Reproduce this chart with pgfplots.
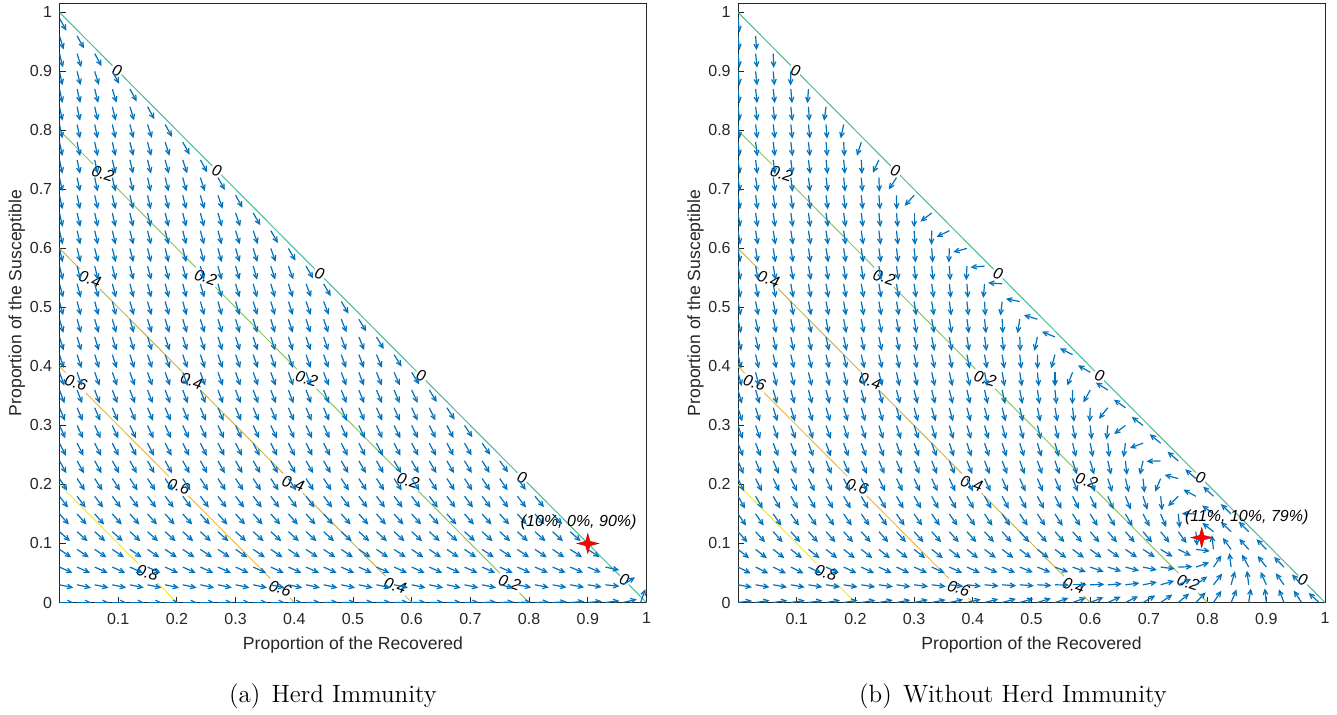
\documentclass[border=0pt]{standalone}
\usepackage{pgfplots}
\pgfplotsset{compat=1.18}
\usepackage{pgfplotstable}
\usepackage{fontspec}
\usetikzlibrary{arrows.meta}
\newfontfamily\axfont{Liberation Sans}

\definecolor{qblue}{rgb}{0,0.447,0.741}
\definecolor{axgray}{RGB}{38,38,38}
\definecolor{lev0}{RGB}{70,185,150}
\definecolor{lev2}{RGB}{140,195,100}
\definecolor{lev4}{RGB}{200,180,80}
\definecolor{lev6}{RGB}{245,185,60}
\definecolor{lev8}{RGB}{245,235,30}

% four-pointed marker for the equilibrium points
\pgfdeclareplotmark{sparkle}{%
  \pgfpathmoveto{\pgfqpoint{0pt}{5pt}}%
  \pgfpathlineto{\pgfqpoint{1.1pt}{1.1pt}}%
  \pgfpathlineto{\pgfqpoint{5.5pt}{0pt}}%
  \pgfpathlineto{\pgfqpoint{1.1pt}{-1.1pt}}%
  \pgfpathlineto{\pgfqpoint{0pt}{-5pt}}%
  \pgfpathlineto{\pgfqpoint{-1.1pt}{-1.1pt}}%
  \pgfpathlineto{\pgfqpoint{-5.5pt}{0pt}}%
  \pgfpathlineto{\pgfqpoint{-1.1pt}{1.1pt}}%
  \pgfpathclose
  \pgfusepathqfillstroke}

% direction field: R (recovered), S (susceptible), a = direction of flow in degrees
\pgfplotstableread[row sep=\\]{
R S a\\
0 0 0\\ 0.03 0 0\\ 0.06 0 0\\ 0.09 0 0\\ 0.12 0 0\\ 0.15 0 0\\ 0.18 0 0\\ 0.21 0 0\\ 0.24 0 0\\ 0.27 0 0\\ 0.3 0 0\\ 0.33 0 0\\ 0.36 0 0\\ 0.39 0 0\\ 0.42 0 1\\ 0.45 0 1\\ 0.48 0 1\\ 0.51 0 1\\ 0.54 0 1\\ 0.57 0 1\\ 0.6 0 1\\ 0.63 0 1\\ 0.66 0 1\\ 0.69 0 1\\ 0.72 0 2\\ 0.75 0 2\\ 0.78 0 2\\ 0.81 0 2\\ 0.84 0 3\\ 0.87 0 4\\ 0.9 0 5\\ 0.93 0 7\\ 0.96 0 13\\ 0.99 0 71\\
0 0.03 -12\\ 0.03 0.03 -12\\ 0.06 0.03 -12\\ 0.09 0.03 -12\\ 0.12 0.03 -12\\ 0.15 0.03 -12\\ 0.18 0.03 -12\\ 0.21 0.03 -12\\ 0.24 0.03 -12\\ 0.27 0.03 -12\\ 0.3 0.03 -12\\ 0.33 0.03 -12\\ 0.36 0.03 -12\\ 0.39 0.03 -12\\ 0.42 0.03 -12\\ 0.45 0.03 -12\\ 0.48 0.03 -12\\ 0.51 0.03 -12\\ 0.54 0.03 -12\\ 0.57 0.03 -12\\ 0.6 0.03 -12\\ 0.63 0.03 -12\\ 0.66 0.03 -12\\ 0.69 0.03 -12\\ 0.72 0.03 -12\\ 0.75 0.03 -12\\ 0.78 0.03 -11\\ 0.81 0.03 -11\\ 0.84 0.03 -11\\ 0.87 0.03 -10\\ 0.9 0.03 -9\\ 0.93 0.03 -6\\ 0.96 0.03 32\\
0 0.06 -24\\ 0.03 0.06 -24\\ 0.06 0.06 -24\\ 0.09 0.06 -24\\ 0.12 0.06 -24\\ 0.15 0.06 -24\\ 0.18 0.06 -24\\ 0.21 0.06 -24\\ 0.24 0.06 -24\\ 0.27 0.06 -24\\ 0.3 0.06 -24\\ 0.33 0.06 -24\\ 0.36 0.06 -24\\ 0.39 0.06 -24\\ 0.42 0.06 -24\\ 0.45 0.06 -24\\ 0.48 0.06 -24\\ 0.51 0.06 -24\\ 0.54 0.06 -24\\ 0.57 0.06 -24\\ 0.6 0.06 -24\\ 0.63 0.06 -24\\ 0.66 0.06 -24\\ 0.69 0.06 -24\\ 0.72 0.06 -24\\ 0.75 0.06 -24\\ 0.78 0.06 -24\\ 0.81 0.06 -23\\ 0.84 0.06 -23\\ 0.87 0.06 -23\\ 0.9 0.06 -22\\ 0.93 0.06 -12\\
0 0.09 -34\\ 0.03 0.09 -34\\ 0.06 0.09 -34\\ 0.09 0.09 -34\\ 0.12 0.09 -34\\ 0.15 0.09 -34\\ 0.18 0.09 -34\\ 0.21 0.09 -34\\ 0.24 0.09 -34\\ 0.27 0.09 -34\\ 0.3 0.09 -34\\ 0.33 0.09 -34\\ 0.36 0.09 -34\\ 0.39 0.09 -34\\ 0.42 0.09 -34\\ 0.45 0.09 -34\\ 0.48 0.09 -34\\ 0.51 0.09 -34\\ 0.54 0.09 -34\\ 0.57 0.09 -34\\ 0.6 0.09 -34\\ 0.63 0.09 -34\\ 0.66 0.09 -34\\ 0.69 0.09 -34\\ 0.72 0.09 -34\\ 0.75 0.09 -34\\ 0.78 0.09 -34\\ 0.81 0.09 -34\\ 0.84 0.09 -34\\ 0.87 0.09 -33\\ 0.9 0.09 -33\\
0 0.12 -42\\ 0.03 0.12 -42\\ 0.06 0.12 -42\\ 0.09 0.12 -42\\ 0.12 0.12 -42\\ 0.15 0.12 -42\\ 0.18 0.12 -42\\ 0.21 0.12 -42\\ 0.24 0.12 -42\\ 0.27 0.12 -42\\ 0.3 0.12 -42\\ 0.33 0.12 -42\\ 0.36 0.12 -42\\ 0.39 0.12 -42\\ 0.42 0.12 -42\\ 0.45 0.12 -42\\ 0.48 0.12 -42\\ 0.51 0.12 -42\\ 0.54 0.12 -42\\ 0.57 0.12 -42\\ 0.6 0.12 -42\\ 0.63 0.12 -42\\ 0.66 0.12 -42\\ 0.69 0.12 -42\\ 0.72 0.12 -42\\ 0.75 0.12 -42\\ 0.78 0.12 -42\\ 0.81 0.12 -42\\ 0.84 0.12 -42\\ 0.87 0.12 -42\\
0 0.15 -48\\ 0.03 0.15 -48\\ 0.06 0.15 -48\\ 0.09 0.15 -48\\ 0.12 0.15 -48\\ 0.15 0.15 -48\\ 0.18 0.15 -48\\ 0.21 0.15 -48\\ 0.24 0.15 -48\\ 0.27 0.15 -48\\ 0.3 0.15 -48\\ 0.33 0.15 -48\\ 0.36 0.15 -48\\ 0.39 0.15 -48\\ 0.42 0.15 -48\\ 0.45 0.15 -48\\ 0.48 0.15 -48\\ 0.51 0.15 -48\\ 0.54 0.15 -48\\ 0.57 0.15 -48\\ 0.6 0.15 -48\\ 0.63 0.15 -48\\ 0.66 0.15 -48\\ 0.69 0.15 -48\\ 0.72 0.15 -48\\ 0.75 0.15 -48\\ 0.78 0.15 -48\\ 0.81 0.15 -48\\ 0.84 0.15 -47\\
0 0.18 -53\\ 0.03 0.18 -53\\ 0.06 0.18 -53\\ 0.09 0.18 -53\\ 0.12 0.18 -53\\ 0.15 0.18 -53\\ 0.18 0.18 -53\\ 0.21 0.18 -53\\ 0.24 0.18 -53\\ 0.27 0.18 -53\\ 0.3 0.18 -53\\ 0.33 0.18 -53\\ 0.36 0.18 -53\\ 0.39 0.18 -53\\ 0.42 0.18 -53\\ 0.45 0.18 -53\\ 0.48 0.18 -53\\ 0.51 0.18 -53\\ 0.54 0.18 -53\\ 0.57 0.18 -53\\ 0.6 0.18 -53\\ 0.63 0.18 -53\\ 0.66 0.18 -53\\ 0.69 0.18 -53\\ 0.72 0.18 -53\\ 0.75 0.18 -53\\ 0.78 0.18 -52\\ 0.81 0.18 -50\\
0 0.21 -57\\ 0.03 0.21 -57\\ 0.06 0.21 -57\\ 0.09 0.21 -57\\ 0.12 0.21 -57\\ 0.15 0.21 -57\\ 0.18 0.21 -57\\ 0.21 0.21 -57\\ 0.24 0.21 -57\\ 0.27 0.21 -57\\ 0.3 0.21 -57\\ 0.33 0.21 -57\\ 0.36 0.21 -57\\ 0.39 0.21 -57\\ 0.42 0.21 -57\\ 0.45 0.21 -57\\ 0.48 0.21 -57\\ 0.51 0.21 -57\\ 0.54 0.21 -57\\ 0.57 0.21 -57\\ 0.6 0.21 -57\\ 0.63 0.21 -57\\ 0.66 0.21 -57\\ 0.69 0.21 -57\\ 0.72 0.21 -56\\ 0.75 0.21 -56\\ 0.78 0.21 -53\\
0 0.24 -61\\ 0.03 0.24 -61\\ 0.06 0.24 -61\\ 0.09 0.24 -61\\ 0.12 0.24 -61\\ 0.15 0.24 -61\\ 0.18 0.24 -61\\ 0.21 0.24 -61\\ 0.24 0.24 -61\\ 0.27 0.24 -61\\ 0.3 0.24 -61\\ 0.33 0.24 -60\\ 0.36 0.24 -60\\ 0.39 0.24 -60\\ 0.42 0.24 -60\\ 0.45 0.24 -60\\ 0.48 0.24 -60\\ 0.51 0.24 -60\\ 0.54 0.24 -60\\ 0.57 0.24 -60\\ 0.6 0.24 -60\\ 0.63 0.24 -60\\ 0.66 0.24 -60\\ 0.69 0.24 -59\\ 0.72 0.24 -58\\ 0.75 0.24 -54\\
0 0.27 -63\\ 0.03 0.27 -63\\ 0.06 0.27 -63\\ 0.09 0.27 -63\\ 0.12 0.27 -63\\ 0.15 0.27 -63\\ 0.18 0.27 -63\\ 0.21 0.27 -63\\ 0.24 0.27 -63\\ 0.27 0.27 -63\\ 0.3 0.27 -63\\ 0.33 0.27 -63\\ 0.36 0.27 -63\\ 0.39 0.27 -63\\ 0.42 0.27 -63\\ 0.45 0.27 -63\\ 0.48 0.27 -63\\ 0.51 0.27 -63\\ 0.54 0.27 -63\\ 0.57 0.27 -63\\ 0.6 0.27 -62\\ 0.63 0.27 -62\\ 0.66 0.27 -62\\ 0.69 0.27 -60\\ 0.72 0.27 -55\\
0 0.3 -65\\ 0.03 0.3 -65\\ 0.06 0.3 -65\\ 0.09 0.3 -65\\ 0.12 0.3 -65\\ 0.15 0.3 -65\\ 0.18 0.3 -65\\ 0.21 0.3 -65\\ 0.24 0.3 -65\\ 0.27 0.3 -65\\ 0.3 0.3 -65\\ 0.33 0.3 -65\\ 0.36 0.3 -65\\ 0.39 0.3 -65\\ 0.42 0.3 -65\\ 0.45 0.3 -65\\ 0.48 0.3 -65\\ 0.51 0.3 -65\\ 0.54 0.3 -65\\ 0.57 0.3 -64\\ 0.6 0.3 -64\\ 0.63 0.3 -63\\ 0.66 0.3 -62\\ 0.69 0.3 -56\\
0 0.33 -67\\ 0.03 0.33 -67\\ 0.06 0.33 -67\\ 0.09 0.33 -67\\ 0.12 0.33 -67\\ 0.15 0.33 -67\\ 0.18 0.33 -67\\ 0.21 0.33 -67\\ 0.24 0.33 -67\\ 0.27 0.33 -67\\ 0.3 0.33 -67\\ 0.33 0.33 -67\\ 0.36 0.33 -67\\ 0.39 0.33 -67\\ 0.42 0.33 -67\\ 0.45 0.33 -67\\ 0.48 0.33 -67\\ 0.51 0.33 -67\\ 0.54 0.33 -66\\ 0.57 0.33 -66\\ 0.6 0.33 -65\\ 0.63 0.33 -64\\ 0.66 0.33 -57\\
0 0.36 -69\\ 0.03 0.36 -69\\ 0.06 0.36 -69\\ 0.09 0.36 -69\\ 0.12 0.36 -69\\ 0.15 0.36 -69\\ 0.18 0.36 -69\\ 0.21 0.36 -69\\ 0.24 0.36 -69\\ 0.27 0.36 -69\\ 0.3 0.36 -69\\ 0.33 0.36 -69\\ 0.36 0.36 -69\\ 0.39 0.36 -69\\ 0.42 0.36 -69\\ 0.45 0.36 -68\\ 0.48 0.36 -68\\ 0.51 0.36 -68\\ 0.54 0.36 -67\\ 0.57 0.36 -67\\ 0.6 0.36 -65\\ 0.63 0.36 -58\\
0 0.39 -70\\ 0.03 0.39 -70\\ 0.06 0.39 -70\\ 0.09 0.39 -70\\ 0.12 0.39 -70\\ 0.15 0.39 -70\\ 0.18 0.39 -70\\ 0.21 0.39 -70\\ 0.24 0.39 -70\\ 0.27 0.39 -70\\ 0.3 0.39 -70\\ 0.33 0.39 -70\\ 0.36 0.39 -70\\ 0.39 0.39 -70\\ 0.42 0.39 -70\\ 0.45 0.39 -69\\ 0.48 0.39 -69\\ 0.51 0.39 -69\\ 0.54 0.39 -68\\ 0.57 0.39 -66\\ 0.6 0.39 -58\\
0 0.42 -72\\ 0.03 0.42 -72\\ 0.06 0.42 -72\\ 0.09 0.42 -72\\ 0.12 0.42 -72\\ 0.15 0.42 -71\\ 0.18 0.42 -71\\ 0.21 0.42 -71\\ 0.24 0.42 -71\\ 0.27 0.42 -71\\ 0.3 0.42 -71\\ 0.33 0.42 -71\\ 0.36 0.42 -71\\ 0.39 0.42 -71\\ 0.42 0.42 -71\\ 0.45 0.42 -70\\ 0.48 0.42 -70\\ 0.51 0.42 -69\\ 0.54 0.42 -67\\ 0.57 0.42 -58\\
0 0.45 -73\\ 0.03 0.45 -73\\ 0.06 0.45 -73\\ 0.09 0.45 -73\\ 0.12 0.45 -73\\ 0.15 0.45 -72\\ 0.18 0.45 -72\\ 0.21 0.45 -72\\ 0.24 0.45 -72\\ 0.27 0.45 -72\\ 0.3 0.45 -72\\ 0.33 0.45 -72\\ 0.36 0.45 -72\\ 0.39 0.45 -72\\ 0.42 0.45 -71\\ 0.45 0.45 -71\\ 0.48 0.45 -70\\ 0.51 0.45 -68\\ 0.54 0.45 -59\\
0 0.48 -74\\ 0.03 0.48 -74\\ 0.06 0.48 -74\\ 0.09 0.48 -74\\ 0.12 0.48 -74\\ 0.15 0.48 -73\\ 0.18 0.48 -73\\ 0.21 0.48 -73\\ 0.24 0.48 -73\\ 0.27 0.48 -73\\ 0.3 0.48 -73\\ 0.33 0.48 -73\\ 0.36 0.48 -73\\ 0.39 0.48 -72\\ 0.42 0.48 -72\\ 0.45 0.48 -71\\ 0.48 0.48 -68\\ 0.51 0.48 -59\\
0 0.51 -75\\ 0.03 0.51 -75\\ 0.06 0.51 -75\\ 0.09 0.51 -75\\ 0.12 0.51 -74\\ 0.15 0.51 -74\\ 0.18 0.51 -74\\ 0.21 0.51 -74\\ 0.24 0.51 -74\\ 0.27 0.51 -74\\ 0.3 0.51 -74\\ 0.33 0.51 -73\\ 0.36 0.51 -73\\ 0.39 0.51 -72\\ 0.42 0.51 -71\\ 0.45 0.51 -69\\ 0.48 0.51 -59\\
0 0.54 -75\\ 0.03 0.54 -75\\ 0.06 0.54 -75\\ 0.09 0.54 -75\\ 0.12 0.54 -75\\ 0.15 0.54 -75\\ 0.18 0.54 -75\\ 0.21 0.54 -75\\ 0.24 0.54 -74\\ 0.27 0.54 -74\\ 0.3 0.54 -74\\ 0.33 0.54 -74\\ 0.36 0.54 -73\\ 0.39 0.54 -72\\ 0.42 0.54 -69\\ 0.45 0.54 -60\\
0 0.57 -76\\ 0.03 0.57 -76\\ 0.06 0.57 -76\\ 0.09 0.57 -76\\ 0.12 0.57 -76\\ 0.15 0.57 -75\\ 0.18 0.57 -75\\ 0.21 0.57 -75\\ 0.24 0.57 -75\\ 0.27 0.57 -75\\ 0.3 0.57 -74\\ 0.33 0.57 -74\\ 0.36 0.57 -72\\ 0.39 0.57 -70\\ 0.42 0.57 -60\\
0 0.6 -77\\ 0.03 0.6 -76\\ 0.06 0.6 -76\\ 0.09 0.6 -76\\ 0.12 0.6 -76\\ 0.15 0.6 -76\\ 0.18 0.6 -76\\ 0.21 0.6 -76\\ 0.24 0.6 -75\\ 0.27 0.6 -75\\ 0.3 0.6 -74\\ 0.33 0.6 -73\\ 0.36 0.6 -70\\ 0.39 0.6 -60\\
0 0.63 -77\\ 0.03 0.63 -77\\ 0.06 0.63 -77\\ 0.09 0.63 -77\\ 0.12 0.63 -76\\ 0.15 0.63 -76\\ 0.18 0.63 -76\\ 0.21 0.63 -76\\ 0.24 0.63 -75\\ 0.27 0.63 -75\\ 0.3 0.63 -73\\ 0.33 0.63 -71\\ 0.36 0.63 -60\\
0 0.66 -77\\ 0.03 0.66 -77\\ 0.06 0.66 -77\\ 0.09 0.66 -77\\ 0.12 0.66 -77\\ 0.15 0.66 -77\\ 0.18 0.66 -76\\ 0.21 0.66 -76\\ 0.24 0.66 -75\\ 0.27 0.66 -74\\ 0.3 0.66 -71\\ 0.33 0.66 -60\\
0 0.69 -78\\ 0.03 0.69 -78\\ 0.06 0.69 -77\\ 0.09 0.69 -77\\ 0.12 0.69 -77\\ 0.15 0.69 -77\\ 0.18 0.69 -76\\ 0.21 0.69 -76\\ 0.24 0.69 -74\\ 0.27 0.69 -71\\ 0.3 0.69 -61\\
0 0.72 -78\\ 0.03 0.72 -78\\ 0.06 0.72 -78\\ 0.09 0.72 -77\\ 0.12 0.72 -77\\ 0.15 0.72 -77\\ 0.18 0.72 -76\\ 0.21 0.72 -75\\ 0.24 0.72 -72\\ 0.27 0.72 -61\\
0 0.75 -78\\ 0.03 0.75 -78\\ 0.06 0.75 -78\\ 0.09 0.75 -77\\ 0.12 0.75 -77\\ 0.15 0.75 -76\\ 0.18 0.75 -75\\ 0.21 0.75 -72\\ 0.24 0.75 -61\\
0 0.78 -78\\ 0.03 0.78 -78\\ 0.06 0.78 -78\\ 0.09 0.78 -77\\ 0.12 0.78 -76\\ 0.15 0.78 -75\\ 0.18 0.78 -72\\ 0.21 0.78 -61\\
0 0.81 -78\\ 0.03 0.81 -78\\ 0.06 0.81 -78\\ 0.09 0.81 -77\\ 0.12 0.81 -76\\ 0.15 0.81 -72\\ 0.18 0.81 -61\\
0 0.84 -78\\ 0.03 0.84 -78\\ 0.06 0.84 -77\\ 0.09 0.84 -76\\ 0.12 0.84 -73\\ 0.15 0.84 -61\\
0 0.87 -78\\ 0.03 0.87 -77\\ 0.06 0.87 -76\\ 0.09 0.87 -73\\ 0.12 0.87 -61\\
0 0.9 -78\\ 0.03 0.9 -76\\ 0.06 0.9 -73\\ 0.09 0.9 -61\\
0 0.93 -76\\ 0.03 0.93 -73\\ 0.06 0.93 -61\\
0 0.96 -73\\ 0.03 0.96 -61\\
0 0.99 -61\\
}\herd

\pgfplotstableread[row sep=\\]{
R S a\\
0 0 7\\ 0.03 0 8\\ 0.06 0 8\\ 0.09 0 8\\ 0.12 0 8\\ 0.15 0 9\\ 0.18 0 9\\ 0.21 0 9\\ 0.24 0 10\\ 0.27 0 10\\ 0.3 0 11\\ 0.33 0 11\\ 0.36 0 12\\ 0.39 0 13\\ 0.42 0 14\\ 0.45 0 15\\ 0.48 0 16\\ 0.51 0 17\\ 0.54 0 18\\ 0.57 0 20\\ 0.6 0 21\\ 0.63 0 24\\ 0.66 0 26\\ 0.69 0 30\\ 0.72 0 34\\ 0.75 0 39\\ 0.78 0 46\\ 0.81 0 56\\ 0.84 0 67\\ 0.87 0 81\\ 0.9 0 96\\ 0.93 0 111\\ 0.96 0 123\\ 0.99 0 138\\
0 0.03 -10\\ 0.03 0.03 -10\\ 0.06 0.03 -10\\ 0.09 0.03 -10\\ 0.12 0.03 -9\\ 0.15 0.03 -9\\ 0.18 0.03 -9\\ 0.21 0.03 -9\\ 0.24 0.03 -8\\ 0.27 0.03 -8\\ 0.3 0.03 -7\\ 0.33 0.03 -7\\ 0.36 0.03 -6\\ 0.39 0.03 -6\\ 0.42 0.03 -5\\ 0.45 0.03 -4\\ 0.48 0.03 -4\\ 0.51 0.03 -3\\ 0.54 0.03 -1\\ 0.57 0.03 0\\ 0.6 0.03 2\\ 0.63 0.03 4\\ 0.66 0.03 7\\ 0.69 0.03 11\\ 0.72 0.03 16\\ 0.75 0.03 24\\ 0.78 0.03 36\\ 0.81 0.03 52\\ 0.84 0.03 74\\ 0.87 0.03 97\\ 0.9 0.03 114\\ 0.93 0.03 125\\ 0.96 0.03 133\\
0 0.06 -26\\ 0.03 0.06 -26\\ 0.06 0.06 -26\\ 0.09 0.06 -26\\ 0.12 0.06 -25\\ 0.15 0.06 -25\\ 0.18 0.06 -25\\ 0.21 0.06 -25\\ 0.24 0.06 -25\\ 0.27 0.06 -25\\ 0.3 0.06 -24\\ 0.33 0.06 -24\\ 0.36 0.06 -24\\ 0.39 0.06 -24\\ 0.42 0.06 -23\\ 0.45 0.06 -23\\ 0.48 0.06 -22\\ 0.51 0.06 -22\\ 0.54 0.06 -21\\ 0.57 0.06 -20\\ 0.6 0.06 -19\\ 0.63 0.06 -17\\ 0.66 0.06 -15\\ 0.69 0.06 -12\\ 0.72 0.06 -7\\ 0.75 0.06 2\\ 0.78 0.06 19\\ 0.81 0.06 56\\ 0.84 0.06 97\\ 0.87 0.06 118\\ 0.9 0.06 128\\ 0.93 0.06 134\\
0 0.09 -38\\ 0.03 0.09 -38\\ 0.06 0.09 -38\\ 0.09 0.09 -38\\ 0.12 0.09 -38\\ 0.15 0.09 -38\\ 0.18 0.09 -38\\ 0.21 0.09 -38\\ 0.24 0.09 -38\\ 0.27 0.09 -38\\ 0.3 0.09 -38\\ 0.33 0.09 -38\\ 0.36 0.09 -38\\ 0.39 0.09 -38\\ 0.42 0.09 -37\\ 0.45 0.09 -37\\ 0.48 0.09 -37\\ 0.51 0.09 -37\\ 0.54 0.09 -37\\ 0.57 0.09 -36\\ 0.6 0.09 -36\\ 0.63 0.09 -35\\ 0.66 0.09 -34\\ 0.69 0.09 -33\\ 0.72 0.09 -31\\ 0.75 0.09 -26\\ 0.78 0.09 -7\\ 0.81 0.09 97\\ 0.84 0.09 126\\ 0.87 0.09 132\\ 0.9 0.09 134\\
0 0.12 -48\\ 0.03 0.12 -48\\ 0.06 0.12 -48\\ 0.09 0.12 -48\\ 0.12 0.12 -48\\ 0.15 0.12 -48\\ 0.18 0.12 -48\\ 0.21 0.12 -48\\ 0.24 0.12 -48\\ 0.27 0.12 -48\\ 0.3 0.12 -48\\ 0.33 0.12 -48\\ 0.36 0.12 -48\\ 0.39 0.12 -48\\ 0.42 0.12 -48\\ 0.45 0.12 -48\\ 0.48 0.12 -48\\ 0.51 0.12 -48\\ 0.54 0.12 -48\\ 0.57 0.12 -48\\ 0.6 0.12 -49\\ 0.63 0.12 -49\\ 0.66 0.12 -49\\ 0.69 0.12 -50\\ 0.72 0.12 -51\\ 0.75 0.12 -54\\ 0.78 0.12 -85\\ 0.81 0.12 142\\ 0.84 0.12 137\\ 0.87 0.12 135\\
0 0.15 -55\\ 0.03 0.15 -55\\ 0.06 0.15 -55\\ 0.09 0.15 -55\\ 0.12 0.15 -55\\ 0.15 0.15 -55\\ 0.18 0.15 -55\\ 0.21 0.15 -55\\ 0.24 0.15 -55\\ 0.27 0.15 -55\\ 0.3 0.15 -55\\ 0.33 0.15 -55\\ 0.36 0.15 -55\\ 0.39 0.15 -55\\ 0.42 0.15 -56\\ 0.45 0.15 -56\\ 0.48 0.15 -56\\ 0.51 0.15 -56\\ 0.54 0.15 -57\\ 0.57 0.15 -57\\ 0.6 0.15 -58\\ 0.63 0.15 -59\\ 0.66 0.15 -60\\ 0.69 0.15 -62\\ 0.72 0.15 -67\\ 0.75 0.15 -84\\ 0.78 0.15 178\\ 0.81 0.15 143\\ 0.84 0.15 136\\
0 0.18 -60\\ 0.03 0.18 -60\\ 0.06 0.18 -60\\ 0.09 0.18 -60\\ 0.12 0.18 -60\\ 0.15 0.18 -60\\ 0.18 0.18 -60\\ 0.21 0.18 -60\\ 0.24 0.18 -60\\ 0.27 0.18 -60\\ 0.3 0.18 -60\\ 0.33 0.18 -61\\ 0.36 0.18 -61\\ 0.39 0.18 -61\\ 0.42 0.18 -61\\ 0.45 0.18 -62\\ 0.48 0.18 -62\\ 0.51 0.18 -62\\ 0.54 0.18 -63\\ 0.57 0.18 -63\\ 0.6 0.18 -64\\ 0.63 0.18 -66\\ 0.66 0.18 -68\\ 0.69 0.18 -72\\ 0.72 0.18 -84\\ 0.75 0.18 -136\\ 0.78 0.18 152\\ 0.81 0.18 137\\
0 0.21 -64\\ 0.03 0.21 -64\\ 0.06 0.21 -64\\ 0.09 0.21 -64\\ 0.12 0.21 -64\\ 0.15 0.21 -64\\ 0.18 0.21 -64\\ 0.21 0.21 -64\\ 0.24 0.21 -64\\ 0.27 0.21 -64\\ 0.3 0.21 -65\\ 0.33 0.21 -65\\ 0.36 0.21 -65\\ 0.39 0.21 -65\\ 0.42 0.21 -65\\ 0.45 0.21 -66\\ 0.48 0.21 -66\\ 0.51 0.21 -67\\ 0.54 0.21 -67\\ 0.57 0.21 -68\\ 0.6 0.21 -70\\ 0.63 0.21 -72\\ 0.66 0.21 -76\\ 0.69 0.21 -84\\ 0.72 0.21 -113\\ 0.75 0.21 165\\ 0.78 0.21 139\\
0 0.24 -67\\ 0.03 0.24 -67\\ 0.06 0.24 -67\\ 0.09 0.24 -67\\ 0.12 0.24 -67\\ 0.15 0.24 -67\\ 0.18 0.24 -67\\ 0.21 0.24 -67\\ 0.24 0.24 -67\\ 0.27 0.24 -67\\ 0.3 0.24 -68\\ 0.33 0.24 -68\\ 0.36 0.24 -68\\ 0.39 0.24 -68\\ 0.42 0.24 -69\\ 0.45 0.24 -69\\ 0.48 0.24 -70\\ 0.51 0.24 -70\\ 0.54 0.24 -71\\ 0.57 0.24 -72\\ 0.6 0.24 -74\\ 0.63 0.24 -77\\ 0.66 0.24 -84\\ 0.69 0.24 -103\\ 0.72 0.24 -178\\ 0.75 0.24 140\\
0 0.27 -69\\ 0.03 0.27 -69\\ 0.06 0.27 -69\\ 0.09 0.27 -69\\ 0.12 0.27 -70\\ 0.15 0.27 -70\\ 0.18 0.27 -70\\ 0.21 0.27 -70\\ 0.24 0.27 -70\\ 0.27 0.27 -70\\ 0.3 0.27 -70\\ 0.33 0.27 -70\\ 0.36 0.27 -71\\ 0.39 0.27 -71\\ 0.42 0.27 -71\\ 0.45 0.27 -72\\ 0.48 0.27 -72\\ 0.51 0.27 -73\\ 0.54 0.27 -74\\ 0.57 0.27 -76\\ 0.6 0.27 -79\\ 0.63 0.27 -84\\ 0.66 0.27 -98\\ 0.69 0.27 -160\\ 0.72 0.27 141\\
0 0.3 -71\\ 0.03 0.3 -71\\ 0.06 0.3 -71\\ 0.09 0.3 -71\\ 0.12 0.3 -71\\ 0.15 0.3 -71\\ 0.18 0.3 -72\\ 0.21 0.3 -72\\ 0.24 0.3 -72\\ 0.27 0.3 -72\\ 0.3 0.3 -72\\ 0.33 0.3 -73\\ 0.36 0.3 -73\\ 0.39 0.3 -73\\ 0.42 0.3 -74\\ 0.45 0.3 -74\\ 0.48 0.3 -75\\ 0.51 0.3 -76\\ 0.54 0.3 -77\\ 0.57 0.3 -79\\ 0.6 0.3 -84\\ 0.63 0.3 -95\\ 0.66 0.3 -143\\ 0.69 0.3 143\\
0 0.33 -73\\ 0.03 0.33 -73\\ 0.06 0.33 -73\\ 0.09 0.33 -73\\ 0.12 0.33 -73\\ 0.15 0.33 -73\\ 0.18 0.33 -73\\ 0.21 0.33 -74\\ 0.24 0.33 -74\\ 0.27 0.33 -74\\ 0.3 0.33 -74\\ 0.33 0.33 -74\\ 0.36 0.33 -75\\ 0.39 0.33 -75\\ 0.42 0.33 -75\\ 0.45 0.33 -76\\ 0.48 0.33 -77\\ 0.51 0.33 -78\\ 0.54 0.33 -80\\ 0.57 0.33 -84\\ 0.6 0.33 -92\\ 0.63 0.33 -129\\ 0.66 0.33 145\\
0 0.36 -74\\ 0.03 0.36 -74\\ 0.06 0.36 -74\\ 0.09 0.36 -75\\ 0.12 0.36 -75\\ 0.15 0.36 -75\\ 0.18 0.36 -75\\ 0.21 0.36 -75\\ 0.24 0.36 -75\\ 0.27 0.36 -75\\ 0.3 0.36 -76\\ 0.33 0.36 -76\\ 0.36 0.36 -76\\ 0.39 0.36 -77\\ 0.42 0.36 -77\\ 0.45 0.36 -78\\ 0.48 0.36 -79\\ 0.51 0.36 -81\\ 0.54 0.36 -84\\ 0.57 0.36 -91\\ 0.6 0.36 -119\\ 0.63 0.36 148\\
0 0.39 -75\\ 0.03 0.39 -76\\ 0.06 0.39 -76\\ 0.09 0.39 -76\\ 0.12 0.39 -76\\ 0.15 0.39 -76\\ 0.18 0.39 -76\\ 0.21 0.39 -76\\ 0.24 0.39 -76\\ 0.27 0.39 -77\\ 0.3 0.39 -77\\ 0.33 0.39 -77\\ 0.36 0.39 -77\\ 0.39 0.39 -78\\ 0.42 0.39 -79\\ 0.45 0.39 -80\\ 0.48 0.39 -81\\ 0.51 0.39 -84\\ 0.54 0.39 -90\\ 0.57 0.39 -112\\ 0.6 0.39 150\\
0 0.42 -77\\ 0.03 0.42 -77\\ 0.06 0.42 -77\\ 0.09 0.42 -77\\ 0.12 0.42 -77\\ 0.15 0.42 -77\\ 0.18 0.42 -77\\ 0.21 0.42 -77\\ 0.24 0.42 -77\\ 0.27 0.42 -78\\ 0.3 0.42 -78\\ 0.33 0.42 -78\\ 0.36 0.42 -79\\ 0.39 0.42 -79\\ 0.42 0.42 -80\\ 0.45 0.42 -81\\ 0.48 0.42 -84\\ 0.51 0.42 -89\\ 0.54 0.42 -106\\ 0.57 0.42 154\\
0 0.45 -77\\ 0.03 0.45 -77\\ 0.06 0.45 -78\\ 0.09 0.45 -78\\ 0.12 0.45 -78\\ 0.15 0.45 -78\\ 0.18 0.45 -78\\ 0.21 0.45 -78\\ 0.24 0.45 -78\\ 0.27 0.45 -79\\ 0.3 0.45 -79\\ 0.33 0.45 -79\\ 0.36 0.45 -80\\ 0.39 0.45 -81\\ 0.42 0.45 -82\\ 0.45 0.45 -84\\ 0.48 0.45 -88\\ 0.51 0.45 -102\\ 0.54 0.45 158\\
0 0.48 -78\\ 0.03 0.48 -78\\ 0.06 0.48 -78\\ 0.09 0.48 -78\\ 0.12 0.48 -78\\ 0.15 0.48 -79\\ 0.18 0.48 -79\\ 0.21 0.48 -79\\ 0.24 0.48 -79\\ 0.27 0.48 -79\\ 0.3 0.48 -80\\ 0.33 0.48 -80\\ 0.36 0.48 -81\\ 0.39 0.48 -82\\ 0.42 0.48 -84\\ 0.45 0.48 -87\\ 0.48 0.48 -99\\ 0.51 0.48 163\\
0 0.51 -79\\ 0.03 0.51 -79\\ 0.06 0.51 -79\\ 0.09 0.51 -79\\ 0.12 0.51 -79\\ 0.15 0.51 -79\\ 0.18 0.51 -80\\ 0.21 0.51 -80\\ 0.24 0.51 -80\\ 0.27 0.51 -80\\ 0.3 0.51 -81\\ 0.33 0.51 -81\\ 0.36 0.51 -82\\ 0.39 0.51 -84\\ 0.42 0.51 -87\\ 0.45 0.51 -97\\ 0.48 0.51 169\\
0 0.54 -80\\ 0.03 0.54 -80\\ 0.06 0.54 -80\\ 0.09 0.54 -80\\ 0.12 0.54 -80\\ 0.15 0.54 -80\\ 0.18 0.54 -80\\ 0.21 0.54 -80\\ 0.24 0.54 -81\\ 0.27 0.54 -81\\ 0.3 0.54 -82\\ 0.33 0.54 -82\\ 0.36 0.54 -84\\ 0.39 0.54 -86\\ 0.42 0.54 -95\\ 0.45 0.54 176\\
0 0.57 -80\\ 0.03 0.57 -80\\ 0.06 0.57 -80\\ 0.09 0.57 -80\\ 0.12 0.57 -80\\ 0.15 0.57 -81\\ 0.18 0.57 -81\\ 0.21 0.57 -81\\ 0.24 0.57 -81\\ 0.27 0.57 -82\\ 0.3 0.57 -83\\ 0.33 0.57 -84\\ 0.36 0.57 -86\\ 0.39 0.57 -93\\ 0.42 0.57 -175\\
0 0.6 -81\\ 0.03 0.6 -81\\ 0.06 0.6 -81\\ 0.09 0.6 -81\\ 0.12 0.6 -81\\ 0.15 0.6 -81\\ 0.18 0.6 -81\\ 0.21 0.6 -82\\ 0.24 0.6 -82\\ 0.27 0.6 -83\\ 0.3 0.6 -84\\ 0.33 0.6 -86\\ 0.36 0.6 -92\\ 0.39 0.6 -165\\
0 0.63 -81\\ 0.03 0.63 -81\\ 0.06 0.63 -81\\ 0.09 0.63 -81\\ 0.12 0.63 -81\\ 0.15 0.63 -82\\ 0.18 0.63 -82\\ 0.21 0.63 -82\\ 0.24 0.63 -83\\ 0.27 0.63 -84\\ 0.3 0.63 -86\\ 0.33 0.63 -91\\ 0.36 0.63 -154\\
0 0.66 -81\\ 0.03 0.66 -82\\ 0.06 0.66 -82\\ 0.09 0.66 -82\\ 0.12 0.66 -82\\ 0.15 0.66 -82\\ 0.18 0.66 -82\\ 0.21 0.66 -83\\ 0.24 0.66 -84\\ 0.27 0.66 -85\\ 0.3 0.66 -90\\ 0.33 0.66 -143\\
0 0.69 -82\\ 0.03 0.69 -82\\ 0.06 0.69 -82\\ 0.09 0.69 -82\\ 0.12 0.69 -82\\ 0.15 0.69 -83\\ 0.18 0.69 -83\\ 0.21 0.69 -84\\ 0.24 0.69 -85\\ 0.27 0.69 -89\\ 0.3 0.69 -132\\
0 0.72 -82\\ 0.03 0.72 -82\\ 0.06 0.72 -82\\ 0.09 0.72 -83\\ 0.12 0.72 -83\\ 0.15 0.72 -83\\ 0.18 0.72 -84\\ 0.21 0.72 -85\\ 0.24 0.72 -88\\ 0.27 0.72 -123\\
0 0.75 -82\\ 0.03 0.75 -83\\ 0.06 0.75 -83\\ 0.09 0.75 -83\\ 0.12 0.75 -83\\ 0.15 0.75 -84\\ 0.18 0.75 -85\\ 0.21 0.75 -87\\ 0.24 0.75 -115\\
0 0.78 -83\\ 0.03 0.78 -83\\ 0.06 0.78 -83\\ 0.09 0.78 -83\\ 0.12 0.78 -84\\ 0.15 0.78 -85\\ 0.18 0.78 -87\\ 0.21 0.78 -108\\
0 0.81 -83\\ 0.03 0.81 -83\\ 0.06 0.81 -83\\ 0.09 0.81 -84\\ 0.12 0.81 -84\\ 0.15 0.81 -86\\ 0.18 0.81 -102\\
0 0.84 -83\\ 0.03 0.84 -83\\ 0.06 0.84 -84\\ 0.09 0.84 -84\\ 0.12 0.84 -86\\ 0.15 0.84 -98\\
0 0.87 -84\\ 0.03 0.87 -84\\ 0.06 0.87 -84\\ 0.09 0.87 -85\\ 0.12 0.87 -94\\
0 0.9 -84\\ 0.03 0.9 -84\\ 0.06 0.9 -85\\ 0.09 0.9 -91\\
0 0.93 -84\\ 0.03 0.93 -84\\ 0.06 0.93 -88\\
0 0.96 -84\\ 0.03 0.96 -86\\
0 0.99 -84\\
}\noherd

\tikzset{
  clab/.style={font=\axfont\itshape\fontsize{8}{9.6}\selectfont, fill=white,
    inner sep=0.6pt, rotate=-18},
}
\pgfplotsset{
  phase/.style={
    anchor=south west, scale only axis,
    width=293.5pt, height=299.5pt,
    xmin=0, xmax=1, ymin=0, ymax=1.015,
    axis line style={draw=axgray, line width=0.5pt},
    tick align=inside, tick pos=left, major tick length=3pt,
    every tick/.style={draw=axgray, line width=0.5pt},
    xtick={0.1,0.2,0.3,0.4,0.5,0.6,0.7,0.8,0.9,1},
    xticklabels={0.1,0.2,0.3,0.4,0.5,0.6,0.7,0.8,0.9,1},
    ytick={0,0.1,0.2,0.3,0.4,0.5,0.6,0.7,0.8,0.9,1},
    yticklabels={0,0.1,0.2,0.3,0.4,0.5,0.6,0.7,0.8,0.9,1},
    ticklabel style={font=\axfont\fontsize{8}{9.6}\selectfont, text=axgray, inner sep=0pt},
    xticklabel style={yshift=-5pt},
    yticklabel style={xshift=-3.5pt},
    label style={font=\axfont\fontsize{8.8}{10.5}\selectfont, text=axgray},
    xlabel={Proportion of the Recovered},
    ylabel={Proportion of the Susceptible},
    xlabel style={at={(axis description cs:0.5,-0.071)}, anchor=center},
    ylabel style={at={(axis description cs:-0.0725,0.5)}, anchor=center},
  },
  field/.style={qblue, line width=0.6pt,
    quiver={u={0.024*cos(\thisrow{a})}, v={0.024*sin(\thisrow{a})},
      every arrow/.append style={-{Straight Barb[length=2.4pt,width=2.3pt]}}}},
  eq/.style={only marks, mark=sparkle,
    mark options={fill=red, draw=red!75!black, line width=0.2pt}},
}

% level lines of the infected share I = 1 - S - R, with their labels
\newcommand\levels{%
  \addplot[lev0, line width=0.5pt] coordinates {(0,1) (1,0)};
  \addplot[lev2, line width=0.5pt] coordinates {(0,0.8) (0.8,0)};
  \addplot[lev4, line width=0.5pt] coordinates {(0,0.6) (0.6,0)};
  \addplot[lev6, line width=0.5pt] coordinates {(0,0.4) (0.4,0)};
  \addplot[lev8, line width=0.5pt] coordinates {(0,0.2) (0.2,0)};
  \node[clab] at (axis cs:0.098,0.902) {0};
  \node[clab] at (axis cs:0.268,0.732) {0};
  \node[clab] at (axis cs:0.443,0.557) {0};
  \node[clab] at (axis cs:0.616,0.384) {0};
  \node[clab] at (axis cs:0.788,0.212) {0};
  \node[clab] at (axis cs:0.962,0.038) {0};
  \node[clab] at (axis cs:0.074,0.726) {0.2};
  \node[clab] at (axis cs:0.249,0.551) {0.2};
  \node[clab] at (axis cs:0.421,0.379) {0.2};
  \node[clab] at (axis cs:0.594,0.206) {0.2};
  \node[clab] at (axis cs:0.767,0.033) {0.2};
  \node[clab] at (axis cs:0.052,0.548) {0.4};
  \node[clab] at (axis cs:0.225,0.375) {0.4};
  \node[clab] at (axis cs:0.398,0.202) {0.4};
  \node[clab] at (axis cs:0.572,0.028) {0.4};
  \node[clab] at (axis cs:0.028,0.372) {0.6};
  \node[clab] at (axis cs:0.203,0.197) {0.6};
  \node[clab] at (axis cs:0.376,0.024) {0.6};
  \node[clab] at (axis cs:0.150,0.050) {0.8};
}

\begin{document}
\begin{tikzpicture}
\path[use as bounding box] (0pt,0pt) rectangle (668.5pt,-357.5pt);

\begin{axis}[phase, at={(29.75pt,-301.25pt)}]
  \levels
  \addplot[field] table[x=R, y=S] {\herd};
  \addplot[eq] coordinates {(0.9,0.1)};
  \node[font=\axfont\itshape\fontsize{8}{9.6}\selectfont, text=black] at (axis cs:0.8845,0.1364) {(10\%, 0\%, 90\%)};
\end{axis}

\begin{axis}[phase, at={(369pt,-301.25pt)}]
  \levels
  \addplot[field] table[x=R, y=S] {\noherd};
  \addplot[eq] coordinates {(0.79,0.11)};
  \node[font=\axfont\itshape\fontsize{8}{9.6}\selectfont, text=black] at (axis cs:0.8666,0.1449) {(11\%, 10\%, 79\%)};
\end{axis}

\node[font=\fontsize{12.5}{15}\selectfont] at (166.5pt,-348pt) {(a)\hspace{0.45em}Herd Immunity};
\node[font=\fontsize{12.5}{15}\selectfont] at (506.5pt,-348pt) {(b)\hspace{0.45em}Without Herd Immunity};
\end{tikzpicture}
\end{document}
